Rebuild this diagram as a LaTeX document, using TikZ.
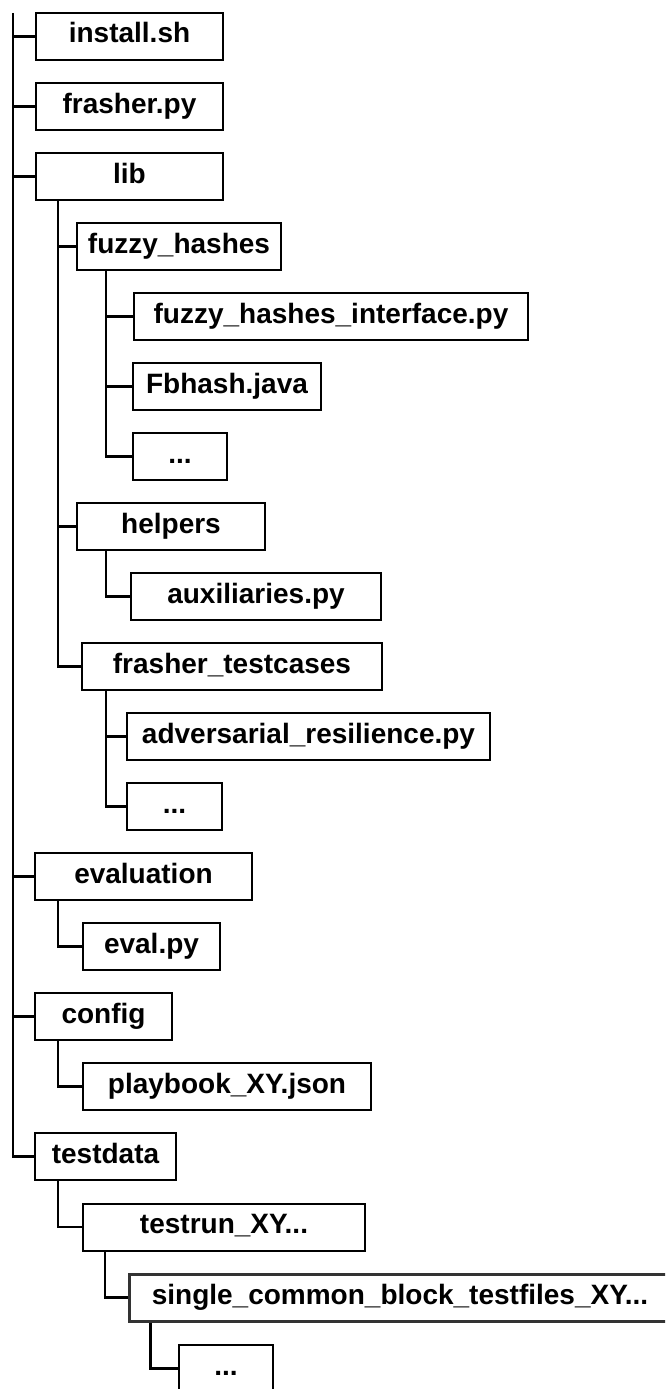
\documentclass[tikz,border=0pt]{standalone}
\usepackage{fontspec}
\setmainfont{Liberation Sans}
\begin{document}
\begin{tikzpicture}[x=1pt,y=-1pt,
  box/.style={draw, line width=2pt, rectangle, inner sep=0pt, minimum height=47pt,
    text height=20pt, text depth=7pt, font=\fontsize{28}{34}\selectfont\bfseries},
  heavybox/.style={box, line width=3pt, draw=black!80},
  conn/.style={line width=2.6pt}]
\useasboundingbox (0,0) rectangle (665,1389);
\clip (0,0) rectangle (665,1389);
% nodes (center x, center y)
\node[box, minimum width=187pt] (install) at (129.5,36.5) {install.sh};
\node[box, minimum width=187pt] (frasher) at (129.5,106.5) {frasher.py};
\node[box, minimum width=187pt] (lib) at (129.5,176.5) {lib};
\node[box, minimum width=204pt] (fuzzy) at (179,246.5) {fuzzy\_hashes};
\node[box, minimum width=394pt] (fhi) at (331,316.5) {fuzzy\_hashes\_interface.py};
\node[box, minimum width=188pt] (fbhash) at (227,386.5) {Fbhash.java};
\node[box, minimum width=94pt] (dotsa) at (180,456.5) {...};
\node[box, minimum width=188pt] (helpers) at (171,526.5) {helpers};
\node[box, minimum width=250pt] (aux) at (256,596.5) {auxiliaries.py};
\node[box, minimum width=300pt] (ftc) at (232,666.5) {frasher\_testcases};
\node[box, minimum width=363pt] (adv) at (308.5,736.5) {adversarial\_resilience.py};
\node[box, minimum width=95pt] (dotsb) at (174.5,806.5) {...};
\node[box, minimum width=217pt] (evaluation) at (143.5,876.5) {evaluation};
\node[box, minimum width=137pt] (evalpy) at (151.5,946.5) {eval.py};
\node[box, minimum width=137pt] (config) at (103.5,1016.5) {config};
\node[box, minimum width=288pt] (playbook) at (227,1086.5) {playbook\_XY.json};
\node[box, minimum width=141pt] (testdata) at (105.5,1156.5) {testdata};
\node[box, minimum width=282pt] (testrun) at (224,1227) {testrun\_XY...};
\node[heavybox, minimum width=542pt] (single) at (400,1297.5) {single\_common\_block\_testfiles\_XY...};
\node[box, minimum width=94pt] (dotsc) at (226,1368.5) {...};
% trunk
\coordinate (root) at (13,13);
\draw[conn] (root) |- (testdata.west);
\foreach \n in {install,frasher,lib,evaluation,config}
  \draw[conn] (root |- \n.west) -- (\n.west);
% lib children
\coordinate (libx) at ([xshift=23pt]lib.south west);
\draw[conn] (libx) |- (ftc.west);
\draw[conn] (libx |- fuzzy.west) -- (fuzzy.west);
\draw[conn] (libx |- helpers.west) -- (helpers.west);
% fuzzy children
\coordinate (fuzx) at ([xshift=30pt]fuzzy.south west);
\draw[conn] (fuzx) |- (dotsa.west);
\draw[conn] (fuzx |- fhi.west) -- (fhi.west);
\draw[conn] (fuzx |- fbhash.west) -- (fbhash.west);
% helpers child
\coordinate (helx) at ([xshift=30pt]helpers.south west);
\draw[conn] (helx) |- (aux.west);
% frasher_testcases children
\coordinate (ftcx) at ([xshift=25pt]ftc.south west);
\draw[conn] (ftcx) |- (dotsb.west);
\draw[conn] (ftcx |- adv.west) -- (adv.west);
% evaluation child
\coordinate (evx) at ([xshift=24pt]evaluation.south west);
\draw[conn] (evx) |- (evalpy.west);
% config child
\coordinate (cfx) at ([xshift=24pt]config.south west);
\draw[conn] (cfx) |- (playbook.west);
% testdata chain
\coordinate (tdx) at ([xshift=24pt]testdata.south west);
\draw[conn] (tdx) |- (testrun.west);
\coordinate (trx) at ([xshift=23pt]testrun.south west);
\draw[conn] (trx) |- (single.west);
\coordinate (sgx) at ([xshift=23pt]single.south west);
\draw[conn] (sgx) |- (dotsc.west);
\end{tikzpicture}
\end{document}
